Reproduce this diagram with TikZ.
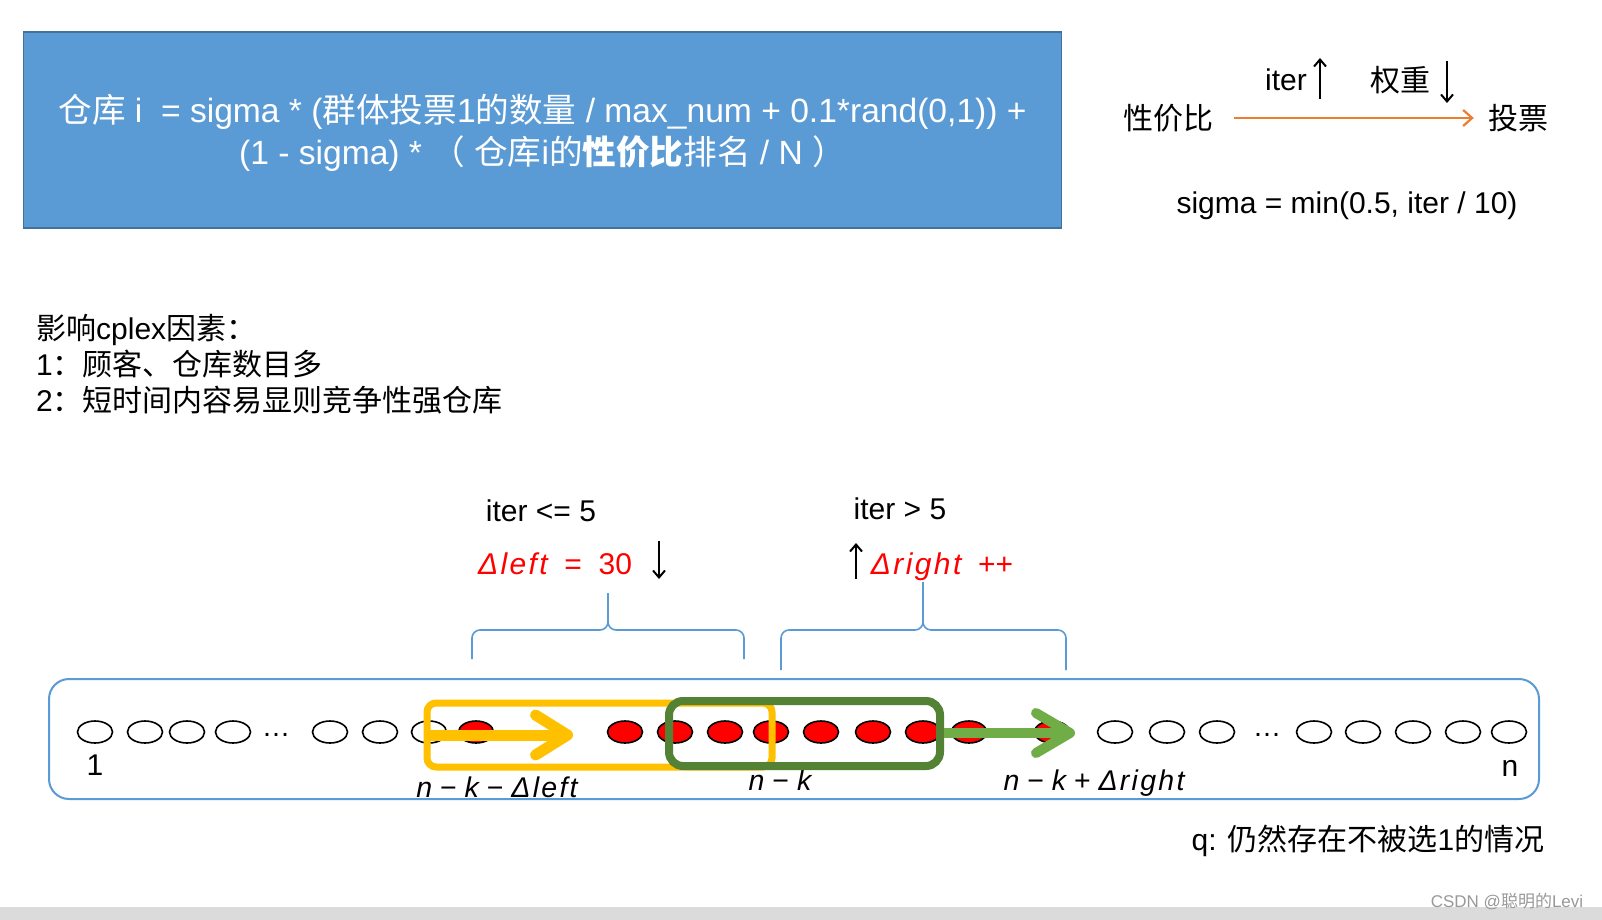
\documentclass[tikz,border=0pt]{standalone}
\usepackage{fontspec}
\setmainfont{Liberation Sans}
\newfontfamily\cjk{Noto Sans CJK SC}
\newfontfamily\vfont[LetterSpace=8]{Liberation Sans}
\usetikzlibrary{arrows.meta,positioning,shapes.geometric}

\definecolor{figBlue}  {HTML}{5B9BD5}
\definecolor{figEdge}  {HTML}{41719C}
\definecolor{figOrange}{HTML}{ED7D31}
\definecolor{figYellow}{HTML}{FFC000}
\definecolor{figGreen} {HTML}{548235}
\definecolor{figMove}  {HTML}{70AD47}
\definecolor{figRed}   {HTML}{FF0000}

\newcommand\zh[1]{{\cjk #1}}
\newcommand\vv[1]{{\vfont\itshape #1}}

\begin{document}
\begin{tikzpicture}[x=1pt,y=-1pt,
  plaintext/.style={inner sep=0pt, font=\fontsize{30}{36}\selectfont},
  redtext/.style={plaintext, text=figRed},
  labeltext/.style={inner sep=0pt, font=\fontsize{28.5}{34}\selectfont},
  formulabox/.style={draw=figEdge, fill=figBlue, line width=1.5pt, text=white,
    minimum width=1038pt, minimum height=196pt, align=center,
    font=\fontsize{33.6}{42}\selectfont},
  thinarrow/.style={line width=2pt, -{Straight Barb[length=7pt,width=12pt]}},
  votearrow/.style={figOrange, line width=2.2pt, -{Straight Barb[length=9pt,width=16pt]}},
  bracket/.style={figBlue, line width=1.6pt, rounded corners=8pt},
  emptydot/.style={ellipse, draw, line width=1.6pt, fill=white,
    minimum width=35pt, minimum height=22pt, inner sep=0pt},
  fulldot/.style={emptydot, fill=figRed},
  yellowwin/.style={draw=figYellow, line width=7pt, rounded corners=9pt,
    minimum width=345pt, minimum height=64pt},
  greenwin/.style={draw=figGreen, line width=8pt, rounded corners=14pt,
    minimum width=271pt, minimum height=65pt},
  yellowmove/.style={figYellow, line width=11pt,
    -{Straight Barb[length=32pt,width=40pt,round]}},
  greenmove/.style={figMove, line width=10pt,
    -{Straight Barb[length=34pt,width=40pt,round]}}]

  \useasboundingbox (0,0) rectangle (1602,920);
  \fill[white] (0,0) rectangle (1602,920);
  \fill[black!14] (0,907) rectangle (1602,920);

  % formula
  \node[formulabox] (formula) at (542.5,129.8) {};
  \node[text=white, align=center, inner sep=0pt, font=\fontsize{33.6}{42}\selectfont]
    (formulaText) at (542.5,133)
    {\zh{仓库} i~ = sigma * (\zh{群体投票}1\zh{的数量} / max\_num + 0.1*rand(0,1)) +\\
     (1 - sigma) * \zh{（} \zh{仓库}i\zh{的}\textbf{\zh{性价比}}\zh{排名} / N \zh{）}};

  % voting weight
  \node[plaintext] (ratio) at (1168,118) {\zh{性价比}};
  \node[plaintext] (vote) at (1518,118) {\zh{投票}};
  \draw[votearrow, shorten <=21pt, shorten >=14pt] (ratio) -- (vote);
  \node[plaintext] (iter) at (1286,80) {iter};
  \node[plaintext] (weight) at (1400,80) {\zh{权重}};
  \coordinate (iterTail) at (1320,99);
  \coordinate (iterTip) at (1320,58);
  \coordinate (weightTail) at (1447,61);
  \coordinate (weightTip) at (1447,103);
  \draw[thinarrow] (iterTail) -- (iterTip);
  \draw[thinarrow] (weightTail) -- (weightTip);
  \node[plaintext] (sigma) at (1347,206) {sigma = min(0.5, iter / 10)};

  % factors
  \node[plaintext, anchor=west, align=left, font=\fontsize{30}{36}\selectfont]
    (factors) at (36,364)
    {\zh{影响}cplex\zh{因素：}\\1\zh{：顾客、仓库数目多}\\2\zh{：短时间内容易显则竞争性强仓库}};

  % windows
  \node[plaintext] (lowIter) at (541,511) {iter <= 5};
  \node[plaintext] (highIter) at (900,509) {iter > 5};
  \node[redtext, anchor=base] (leftDelta) at (555,574) {\vv{Δleft}\ \ =\ \ 30};
  \node[redtext, anchor=base] (rightDelta) at (942,574) {\vv{Δright}\ \ ++};
  \coordinate (leftTail) at (659,541);
  \coordinate (leftTip) at (659,579);
  \coordinate (rightTail) at (856,579);
  \coordinate (rightTip) at (856,543);
  \draw[thinarrow] (leftTail) -- (leftTip);
  \draw[thinarrow] (rightTail) -- (rightTip);

  \draw[bracket] (472,659) |- (608,630) -- (608,593);
  \draw[bracket] (744,659) |- (608,630) -- (608,593);
  \draw[bracket] (781,670) |- (923,630) -- (923,582);
  \draw[bracket] (1066,670) |- (923,630) -- (923,582);

  % strip of warehouses
  \draw[figBlue, line width=2pt, rounded corners=20pt] (49,679) rectangle (1539,799);
  \foreach \x [count=\i] in {95,145,187,233,330,380,429,1115,1167,1217,1314,1363,1413,1463,1509}
    \node[emptydot] (w\i) at (\x,732) {};
  \foreach \x [count=\i] in {476,625,675,725,771,821,873,923,969,1052}
    \node[fulldot] (r\i) at (\x,732) {};
  \foreach \x [count=\i] in {276,1012,1267}
    \node[labeltext, anchor=base] (gap\i) at (\x,736) {…};

  \node[plaintext] (first) at (95,765) {1};
  \node[plaintext] (last) at (1510,768) {n};
  \node[labeltext, anchor=base] (lowEnd) at (497,797) {\vv{n} − \vv{k} − \vv{Δleft}};
  \node[labeltext, anchor=base] (mid) at (780,790) {\vv{n} − \vv{k}};
  \node[labeltext, anchor=base] (highEnd) at (1094,790) {\vv{n} − \vv{k} + \vv{Δright}};

  \node[yellowwin] (leftWin) at (599.5,735) {};
  \coordinate (yellowTip) at (573,735);
  \draw[yellowmove] (leftWin.west |- yellowTip) -- (yellowTip);
  \node[greenwin] (rightWin) at (804.5,733.5) {};
  \coordinate (greenTip) at (1075,733);
  \draw[greenmove] (rightWin.east |- greenTip) -- (greenTip);

  % notes
  \node[plaintext] (question) at (1368,841) {q: \zh{仍然存在不被选}1\zh{的情况}};
  \node[inner sep=0pt, text=black!40, font=\fontsize{17}{20}\selectfont]
    (mark) at (1507,901) {CSDN @\zh{聪明的}Levi};
\end{tikzpicture}
\end{document}
